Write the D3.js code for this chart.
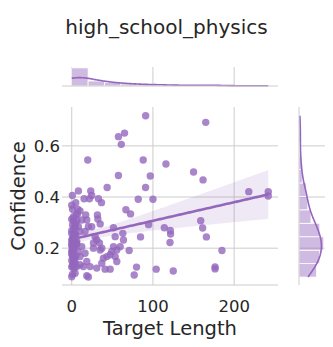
<!DOCTYPE html>
<html>
<head>
<meta charset="utf-8">
<script src="https://cdn.jsdelivr.net/npm/d3@7"></script>
<style>
  body { margin: 0; background: #fff; }
  text { font-family: "DejaVu Sans", sans-serif; fill: #262626; }
</style>
</head>
<body>
<div id="chart"></div>
<script>
// data
const title = "high_school_physics";
const xLabel = "Target Length";
const yLabel = "Confidence";
const xTicks = [0, 100, 200];
const yTicks = [0.2, 0.4, 0.6];

const targetLength = [
  // outliers / spread
  91, 165, 57.5, 65, 61, 19.7, 88, 116, 57.5, 96.7, 150, 161.7, 43.6, 90.9, 218, 242, 242,
  81.9, 100, 66.7, 72.4, 94.6, 114, 121.4, 121.7, 158.8, 161.2, 165.8, 121, 84.7, 185, 176.5,
  176.5, 79.8, 104, 125, 76.9, 70.7,
  // low-length cluster
  0.8, 8.2, 23.4, 24.6, 15.2, 21.8, 4.9, 32.9, 36.6, 7.4, 10.2, 5.3, 17.2, 31.6, 32.1, 35,
  18.5, 12.3, 6.1, 2, 4.1, 8.2, 20.5, 24.6, 10.2, 16.4, 4.1, 2, 28.8, 30.8, 34.1, 37, 26.7,
  51.4, 53.5, 62.9, 63.7, 59.6, 51.4, 49.3, 55.5, 53.5, 47.3, 43.2, 39, 37, 55.5, 18.5, 22.6,
  30.8, 41.1, 47.3, 18.5, 20.5, 4.1, 2, 6.1, 10.2, 14.4, 2, 2, 4.1, 2, 6.1, 12.3, 16.4, 10.2,
  26.7, 35,
  // dense column near zero
  0, 1, 2, 0, 3, 1, 4, 0, 2, 5, 1, 0, 3, 2, 6, 0, 1, 4, 2, 0, 3, 1, 5, 0, 2, 7, 1, 0, 3, 2,
  4, 0, 1, 6, 2, 0, 3, 1, 8, 0, 2, 5, 1, 3, 0
];
const confidence = [
  0.718, 0.692, 0.636, 0.650, 0.606, 0.545, 0.545, 0.529, 0.484, 0.482, 0.498, 0.467, 0.437,
  0.437, 0.421, 0.421, 0.404, 0.391, 0.391, 0.350, 0.334, 0.292, 0.280, 0.269, 0.255, 0.307,
  0.279, 0.244, 0.222, 0.244, 0.191, 0.127, 0.119, 0.126, 0.118, 0.111, 0.095, 0.191,
  0.406, 0.424, 0.424, 0.406, 0.393, 0.393, 0.378, 0.393, 0.378, 0.352, 0.346, 0.330, 0.330,
  0.330, 0.314, 0.295, 0.310, 0.310, 0.308, 0.307, 0.284, 0.284, 0.284, 0.284, 0.265, 0.265,
  0.258, 0.245, 0.245, 0.232, 0.220, 0.200, 0.220, 0.280, 0.245, 0.258, 0.232, 0.206, 0.206,
  0.187, 0.193, 0.167, 0.174, 0.167, 0.161, 0.141, 0.148, 0.148, 0.128, 0.122, 0.118, 0.118,
  0.092, 0.087, 0.102, 0.128, 0.128, 0.135, 0.128, 0.154, 0.180, 0.206, 0.220, 0.226, 0.206,
  0.180, 0.167, 0.200, 0.193,
  0.088, 0.196, 0.208, 0.217, 0.121, 0.133, 0.141, 0.152, 0.163, 0.171, 0.182, 0.188, 0.197,
  0.212, 0.219, 0.231, 0.238, 0.251, 0.262, 0.268, 0.277, 0.291, 0.298, 0.313, 0.322, 0.334,
  0.352, 0.368, 0.224, 0.143, 0.158, 0.176, 0.203, 0.214, 0.236, 0.257, 0.281, 0.098, 0.186,
  0.209, 0.227, 0.248, 0.169, 0.149, 0.126
];

const color = "#9467bd";
const points = targetLength.map((x, i) => ({ x: x, y: confidence[i] }));

const W = 333, H = 347;
const main = { left: 62, right: 278, top: 107, bottom: 285 };
const topM = { top: 67, bottom: 86 };
const rightM = { left: 299, right: 325 };

const svg = d3.select("#chart").append("svg")
  .attr("width", W).attr("height", H);

const x = d3.scaleLinear().domain([-12, 254]).range([main.left, main.right]);
const y = d3.scaleLinear().domain([0.056, 0.752]).range([main.bottom, main.top]);

// numpy "auto" bin rule (max of sturges / fd bin count)
function autoBins(vals) {
  const s = vals.slice().sort(d3.ascending);
  const n = s.length, lo = s[0], hi = s[n - 1];
  const sturges = (hi - lo) / (Math.log2(n) + 1);
  const iqr = d3.quantile(s, 0.75) - d3.quantile(s, 0.25);
  const fd = 2 * iqr / Math.cbrt(n);
  const w = fd > 0 ? Math.min(sturges, fd) : sturges;
  const k = Math.ceil((hi - lo) / w);
  const edges = d3.range(k + 1).map(i => lo + i * (hi - lo) / k);
  const counts = new Array(k).fill(0);
  vals.forEach(v => {
    let i = Math.floor((v - lo) / (hi - lo) * k);
    if (i >= k) i = k - 1;
    counts[i]++;
  });
  return { edges, counts, width: (hi - lo) / k };
}

// gaussian kde scaled to counts, cut at data range
function kde(vals, binW) {
  const n = vals.length;
  const sd = d3.deviation(vals);
  const bw = sd * Math.pow(n, -1 / 5);
  const lo = d3.min(vals), hi = d3.max(vals);
  return d3.range(0, 201).map(i => {
    const t = lo + (hi - lo) * i / 200;
    let s = 0;
    vals.forEach(v => { const z = (t - v) / bw; s += Math.exp(-0.5 * z * z); });
    const dens = s / (n * bw * Math.sqrt(2 * Math.PI));
    return [t, dens * n * binW];
  });
}

// ---- grid lines
const grid = svg.append("g").attr("stroke", "#cccccc").attr("stroke-width", 1);
xTicks.forEach(t => {
  grid.append("line").attr("x1", x(t)).attr("x2", x(t)).attr("y1", main.top).attr("y2", main.bottom);
  grid.append("line").attr("x1", x(t)).attr("x2", x(t)).attr("y1", topM.top).attr("y2", topM.bottom);
});
yTicks.forEach(t => {
  grid.append("line").attr("x1", main.left).attr("x2", main.right).attr("y1", y(t)).attr("y2", y(t));
  grid.append("line").attr("x1", rightM.left).attr("x2", rightM.right).attr("y1", y(t)).attr("y2", y(t));
});

// ---- top marginal
const hx = autoBins(targetLength);
const kx = kde(targetLength, hx.width);
const yTop = d3.scaleLinear()
  .domain([0, d3.max(hx.counts.concat(kx.map(d => d[1]))) * 1.05])
  .range([topM.bottom, topM.top]);
svg.append("g").selectAll("rect").data(hx.counts).enter().append("rect")
  .attr("x", (d, i) => x(hx.edges[i]))
  .attr("width", (d, i) => x(hx.edges[i + 1]) - x(hx.edges[i]))
  .attr("y", d => yTop(d))
  .attr("height", d => yTop(0) - yTop(d))
  .attr("fill", color).attr("fill-opacity", 0.45)
  .attr("stroke", "#fff").attr("stroke-width", 0.8);
svg.append("path").datum(kx)
  .attr("fill", "none").attr("stroke", color).attr("stroke-width", 1.6)
  .attr("d", d3.line().x(d => x(d[0])).y(d => yTop(d[1])));
svg.append("line").attr("x1", main.left).attr("x2", main.right)
  .attr("y1", topM.bottom).attr("y2", topM.bottom).attr("stroke", "#cccccc");

// ---- right marginal
const hy = autoBins(confidence);
const ky = kde(confidence, hy.width);
const xRight = d3.scaleLinear()
  .domain([0, d3.max(hy.counts.concat(ky.map(d => d[1]))) * 1.05])
  .range([rightM.left, rightM.right]);
svg.append("g").selectAll("rect").data(hy.counts).enter().append("rect")
  .attr("x", xRight(0))
  .attr("width", d => xRight(d) - xRight(0))
  .attr("y", (d, i) => y(hy.edges[i + 1]))
  .attr("height", (d, i) => y(hy.edges[i]) - y(hy.edges[i + 1]))
  .attr("fill", color).attr("fill-opacity", 0.45)
  .attr("stroke", "#fff").attr("stroke-width", 0.8);
svg.append("path").datum(ky)
  .attr("fill", "none").attr("stroke", color).attr("stroke-width", 1.6)
  .attr("d", d3.line().x(d => xRight(d[1])).y(d => y(d[0])));
svg.append("line").attr("x1", rightM.left).attr("x2", rightM.left)
  .attr("y1", main.top).attr("y2", main.bottom).attr("stroke", "#cccccc");

// ---- main scatter
svg.append("line").attr("x1", main.left).attr("x2", main.right)
  .attr("y1", main.bottom).attr("y2", main.bottom).attr("stroke", "#cccccc");

svg.append("g").selectAll("circle").data(points).enter().append("circle")
  .attr("cx", d => x(d.x)).attr("cy", d => y(d.y)).attr("r", 3.7)
  .attr("fill", color).attr("fill-opacity", 0.8);

// regression line + 95% ci (heteroscedasticity-robust, HC3)
const n = points.length;
const mx = d3.mean(targetLength), my = d3.mean(confidence);
const sxx = d3.sum(targetLength, v => (v - mx) * (v - mx));
const sxy = d3.sum(points, d => (d.x - mx) * (d.y - my));
const slope = sxy / sxx, icpt = my - slope * mx;
// centred design: columns [1, x - mx]; (X'X)^-1 = diag(1/n, 1/sxx)
let m00 = 0, m01 = 0, m11 = 0;
points.forEach(d => {
  const c = d.x - mx;
  const e = d.y - (icpt + slope * d.x);
  const h = 1 / n + c * c / sxx;
  const w = e * e / Math.pow(1 - h, 2);
  m00 += w; m01 += w * c; m11 += w * c * c;
});
const v00 = m00 / (n * n), v01 = m01 / (n * sxx), v11 = m11 / (sxx * sxx);
const tval = 1.98;
const xs = d3.range(0, 101).map(i => d3.min(targetLength) + (d3.max(targetLength) - d3.min(targetLength)) * i / 100);
const fit = xs.map(v => {
  const yh = icpt + slope * v;
  const c = v - mx;
  const se = Math.sqrt(v00 + 2 * c * v01 + c * c * v11);
  return { x: v, y: yh, lo: yh - tval * se, hi: yh + tval * se };
});
svg.append("path").datum(fit)
  .attr("fill", color).attr("fill-opacity", 0.15)
  .attr("d", d3.area().x(d => x(d.x)).y0(d => y(d.lo)).y1(d => y(d.hi)));
svg.append("path").datum(fit)
  .attr("fill", "none").attr("stroke", color).attr("stroke-width", 2.6)
  .attr("d", d3.line().x(d => x(d.x)).y(d => y(d.y)));

// ---- tick labels and titles
svg.append("g").selectAll("text").data(xTicks).enter().append("text")
  .attr("x", d => x(d)).attr("y", 312)
  .attr("text-anchor", "middle").attr("font-size", 16.5).text(d => d);
svg.append("g").selectAll("text").data(yTicks).enter().append("text")
  .attr("x", 60).attr("y", d => y(d) + 6)
  .attr("text-anchor", "end").attr("font-size", 16.5).text(d => d.toFixed(1));

svg.append("text").attr("x", (main.left + main.right) / 2).attr("y", 335)
  .attr("text-anchor", "middle").attr("font-size", 19.5).text(xLabel);
svg.append("text")
  .attr("transform", `translate(25,${(main.top + main.bottom) / 2}) rotate(-90)`)
  .attr("text-anchor", "middle").attr("font-size", 19.5).text(yLabel);
svg.append("text").attr("x", W / 2).attr("y", 34)
  .attr("text-anchor", "middle").attr("font-size", 20).text(title);
</script>
</body>
</html>
